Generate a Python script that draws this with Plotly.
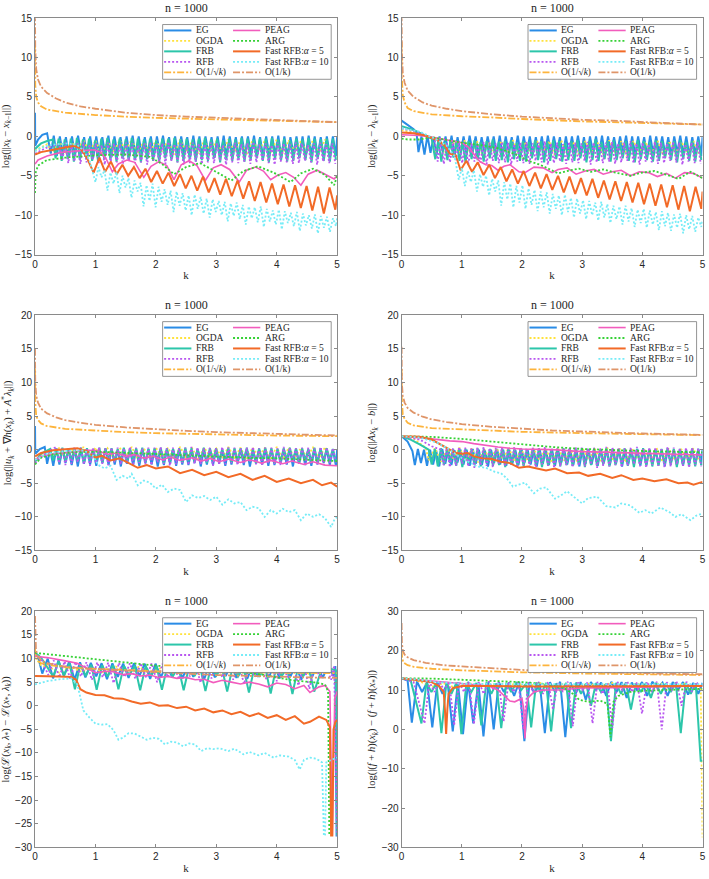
import numpy as np
import plotly.graph_objects as go

W, H = 709, 879

# ---------------- series names / styles ----------------
ORDER = ["EG", "OGDA", "FRB", "RFB", "SQRT", "PEAG", "ARG", "FAST5", "FAST10", "INVK"]
LABELS = {"EG": "EG", "OGDA": "OGDA", "FRB": "FRB", "RFB": "RFB", "SQRT": "O(1/√<i>k</i>)",
          "PEAG": "PEAG", "ARG": "ARG", "FAST5": "Fast RFB:<i>α</i> = 5",
          "FAST10": "Fast RFB:<i>α</i> = 10", "INVK": "O(1/k)"}
STYLE = {
    "EG": ("#2a8ce6", "solid", 2.0),
    "OGDA": ("#ffe23d", "2px,2px", 1.8),
    "FRB": ("#2cc6aa", "solid", 2.0),
    "RFB": ("#b857f0", "2px,2px", 1.8),
    "SQRT": ("#fdb43c", "7px,2px,2px,2px", 1.8),
    "PEAG": ("#f25cbd", "solid", 1.6),
    "ARG": ("#36d136", "2px,2px", 1.8),
    "FAST5": ("#f26a27", "solid", 2.0),
    "FAST10": ("#76ecf7", "2px,2px", 1.8),
    "INVK": ("#df9569", "7px,2px,2px,2px", 1.8),
}
LEGEND_ROWS = [("EG", "PEAG"), ("OGDA", "ARG"), ("FRB", "FAST5"), ("RFB", "FAST10"), ("SQRT", "INVK")]

K_TICKS = [0, 1, 2, 3, 4, 5]

# ======================= Panel 1 : log(||x_k - x_{k-1}||) =======================
P1_EG = dict(head=[[0, 3.0], [0.003, -1.2], [0.05, -0.4], [0.12, 0.2], [0.2, 0.4]], span=[0.26, 4.98],
    low=[-2.2,-2.5,-2.3,-2.6,-2.4,-2.2,-2.5,-2.7,-2.3,-2.4,-2.6,-2.2,-2.5,-2.4,-2.7,-2.3,-2.5,-2.6,-2.2,-2.4,
         -2.7,-2.5,-2.3,-2.6,-2.4,-2.5,-2.2,-2.7,-2.4,-2.5,-2.3,-2.6,-2.4,-2.2,-2.5,-2.7,-2.3,-2.4,-2.6,-2.5,
         -2.2,-2.4,-2.7,-2.3,-2.5,-2.6,-2.4,-2.5],
    high=[0.1,0.0,-0.1,0.0,0.1,-0.1,0.0,0.0,-0.1,0.1,0.0,-0.1,0.0,0.1,0.0,-0.1,0.0,0.0,0.1,-0.1,
          0.0,0.0,-0.1,0.1,0.0,0.0,-0.1,0.0,0.1,0.0,-0.1,0.0,0.0,0.1,-0.1,0.0,0.0,0.1,0.0,-0.1,
          0.0,0.0,0.1,0.0,-0.1,0.0,0.0],
    tail=[[5.0, -0.1]])
P1_OGDA = dict(head=[[0, -1.8], [0.2, -1.0]], span=[0.3, 4.9],
    low=[-2.0,-2.2,-1.9,-2.1,-2.3,-2.0,-1.8,-2.2,-2.1,-1.9,-2.3,-2.0,-2.2,-1.9,-2.1,-2.0,-2.3,-1.8,-2.1,-2.2,-2.0,-1.9,-2.2,-2.1],
    high=[-0.5,-0.6,-0.4,-0.5,-0.6,-0.5,-0.4,-0.6,-0.5,-0.5,-0.4,-0.6,-0.5,-0.6,-0.4,-0.5,-0.5,-0.6,-0.4,-0.5,-0.6,-0.5,-0.4],
    tail=[])
P1_FRB = dict(head=[[0, -1.6], [0.1, -0.9], [0.2, -0.6], [0.3, -0.4]], span=[0.34, 4.98],
    low=[-2.8,-3.1,-2.9,-3.2,-3.0,-2.7,-3.1,-3.3,-2.9,-3.0,-3.2,-2.8,-3.1,-3.0,-3.3,-2.9,-3.1,-3.2,-2.8,-3.0,
         -3.3,-3.1,-2.9,-3.2,-3.0,-3.1,-2.8,-3.3,-3.0,-3.1,-2.9,-3.2,-3.0,-2.8,-3.1,-3.3,-2.9,-3.0,-3.2,-3.1,
         -2.8,-3.0,-3.3,-2.9,-3.1,-3.2,-3.0],
    high=[-0.3,-0.4,-0.3,-0.2,-0.4,-0.3,-0.5,-0.3,-0.2,-0.4,-0.3,-0.4,-0.2,-0.3,-0.4,-0.3,-0.5,-0.3,-0.3,-0.2,
          -0.4,-0.3,-0.4,-0.3,-0.2,-0.4,-0.3,-0.5,-0.3,-0.4,-0.2,-0.3,-0.4,-0.3,-0.3,-0.2,-0.4,-0.3,-0.5,-0.3,
          -0.4,-0.2,-0.3,-0.4,-0.3,-0.3],
    tail=[])
P1_RFB = dict(head=[[0, -2.2], [0.2, -1.4], [0.4, -1.0]], span=[0.45, 4.97],
    low=[-3.1,-3.4,-3.2,-3.5,-3.3,-3.0,-3.4,-3.6,-3.2,-3.3,-3.5,-3.1,-3.4,-3.3,-3.6,-3.2,-3.4,-3.5,-3.1,-3.3,
         -3.6,-3.4,-3.2,-3.5,-3.3,-3.4,-3.1,-3.6,-3.3,-3.4,-3.2,-3.5,-3.3,-3.1,-3.4,-3.6,-3.2,-3.3,-3.5,-3.4,
         -3.1,-3.3,-3.6,-3.2,-3.4,-3.5],
    high=[-0.8,-1.0,-0.9,-0.7,-1.0,-0.9,-1.1,-0.8,-0.9,-1.0,-0.8,-0.9,-1.1,-0.9,-0.8,-1.0,-0.9,-0.7,-1.0,-0.9,
          -1.1,-0.8,-0.9,-1.0,-0.8,-0.9,-1.1,-0.9,-0.8,-1.0,-0.9,-0.7,-1.0,-0.9,-1.1,-0.8,-0.9,-1.0,-0.8,-0.9,
          -1.1,-0.9,-0.8,-1.0,-0.9],
    tail=[])
P1_SQRT = [[0, 12.0], [0.004, 6.5], [0.02, 5.0], [0.05, 4.3], [0.1, 3.8], [0.2, 3.4], [0.5, 3.0], [1, 2.7],
           [1.5, 2.5], [2, 2.35], [3, 2.15], [4, 1.95], [5, 1.8]]
P1_PEAG = [[0, -3.5], [0.05, -3.0], [0.2, -2.5], [0.4, -2.1], [0.6, -1.9], [0.8, -1.8], [0.98, -1.7], [1.08, -2.0],
           [1.18, -2.9], [1.28, -4.5], [1.38, -3.5], [1.52, -3.0], [1.65, -3.3], [1.8, -5.2], [1.92, -3.8],
           [2.05, -3.2], [2.18, -3.7], [2.3, -5.5], [2.42, -3.6], [2.55, -3.1], [2.68, -3.7], [2.82, -5.6],
           [2.95, -4.0], [3.08, -3.6], [3.22, -4.2], [3.38, -5.8], [3.5, -4.3], [3.65, -3.9], [3.78, -4.4],
           [3.9, -5.5], [4.02, -4.9], [4.15, -4.6], [4.28, -5.2], [4.4, -6.2], [4.52, -4.8], [4.67, -4.3],
           [4.8, -4.8], [4.95, -5.4], [5.0, -5.0]]
P1_ARG = [[0, -7.2], [0.01, -4.6], [0.05, -3.7], [0.2, -3.0], [0.5, -2.7], [1.0, -2.4], [1.5, -2.3], [1.9, -2.6],
          [2.1, -3.5], [2.3, -4.8], [2.5, -3.9], [2.73, -3.4], [2.95, -4.3], [3.25, -5.6], [3.45, -4.4],
          [3.69, -3.8], [3.95, -4.6], [4.23, -5.8], [4.4, -4.7], [4.6, -4.1], [4.8, -4.9], [4.95, -6.2], [5.0, -5.0]]
P1_FAST5 = dict(head=[[0, -2.3], [0.1, -2.0], [0.3, -1.7], [0.5, -1.4], [0.65, -1.2], [0.75, -1.5], [0.85, -2.6]],
    span=[0.97, 4.97],
    low=[-4.6,-4.5,-4.8,-5.0,-5.3,-5.8,-6.0,-6.3,-6.6,-6.9,-7.1,-7.4,-7.6,-7.9,-8.2,-8.4,-8.6,-8.9,-9.1,-9.4,-9.8,-9.3],
    high=[-2.7,-3.2,-3.6,-3.9,-4.1,-4.4,-4.6,-4.8,-5.0,-5.1,-5.3,-5.4,-5.6,-5.7,-5.8,-6.0,-6.1,-6.2,-6.3,-6.4,-6.5],
    tail=[[5.0, -7.5]])
P1_FAST10 = dict(head=[[0, -1.9], [0.15, -1.3], [0.35, -1.0], [0.55, -0.9], [0.7, -1.1], [0.8, -1.8], [0.9, -3.0]],
    span=[1.0, 4.98],
    low=[-5.8,-5.2,-6.9,-6.0,-7.2,-6.5,-7.8,-7.0,-8.9,-8.2,-9.0,-8.3,-8.7,-9.6,-8.8,-9.4,-10.0,-9.2,-9.8,-10.3,
         -9.6,-10.0,-10.8,-10.1,-10.5,-11.2,-10.4,-10.9,-11.5,-10.8,-11.2,-11.8,-11.0,-11.4,-12.0,-11.3,-11.7,-12.3,-11.6,-12.1,-11.4],
    high=[-3.9,-4.3,-4.6,-4.5,-5.0,-5.3,-5.6,-5.9,-6.2,-6.0,-6.4,-6.7,-6.9,-7.0,-7.2,-7.5,-7.4,-7.7,-7.9,-8.0,
          -8.2,-8.3,-8.5,-8.4,-8.7,-8.9,-9.0,-8.9,-9.2,-9.4,-9.3,-9.5,-9.7,-9.6,-9.8,-10.0,-9.9,-10.1,-10.2,-10.4],
    tail=[[5.0, -10.4]])
P1_INVK = [[0, 15.5], [0.004, 11], [0.02, 8.5], [0.05, 7.2], [0.1, 6.3], [0.2, 5.5], [0.35, 4.8], [0.5, 4.3],
           [0.75, 3.8], [1, 3.5], [1.5, 3.0], [2, 2.7], [2.5, 2.5], [3, 2.35], [3.5, 2.2], [4, 2.05], [4.5, 1.9], [5, 1.8]]

# ======================= Panel 2 : log(||lambda_k - lambda_{k-1}||) =======================
P2_EG = dict(head=[[0, 2.0], [0.1, 1.5], [0.2, 0.9], [0.25, 0.3]], span=[0.28, 4.98],
    low=[-2.0,-2.3,-2.1,-2.4,-1.9,-2.2,-2.5,-2.1,-2.3,-2.0,-2.4,-2.2,-1.9,-2.3,-2.5,-2.1,-2.2,-2.4,-2.0,-2.3,
         -2.1,-2.5,-2.2,-1.9,-2.4,-2.3,-2.1,-2.2,-2.5,-2.0,-2.3,-2.4,-2.1,-2.2,-1.9,-2.5,-2.3,-2.1,-2.4,-2.2,
         -2.0,-2.3,-2.5,-2.1,-2.2,-2.4,-2.3,-2.5],
    high=[0.0,0.1,-0.1,0.0,0.0,0.1,-0.1,0.0,0.1,0.0,-0.1,0.0,0.0,0.1,0.0,-0.1,0.1,0.0,0.0,-0.1,
          0.0,0.1,0.0,-0.1,0.0,0.0,0.1,-0.1,0.0,0.0,0.1,0.0,-0.1,0.0,0.1,0.0,0.0,-0.1,0.1,0.0,
          0.0,-0.1,0.0,0.1,0.0,-0.1,0.0],
    tail=[[5.0, -0.1]])
P2_OGDA = dict(head=[[0, 0.8], [0.3, 0.3], [0.5, -0.2]], span=[0.55, 4.95],
    low=[-2.2,-2.4,-2.1,-2.3,-2.5,-2.2,-2.0,-2.4,-2.3,-2.1,-2.5,-2.2,-2.4,-2.1,-2.3,-2.2,-2.5,-2.0,-2.3,-2.4,-2.2,-2.1,-2.4],
    high=[-0.6,-0.7,-0.5,-0.6,-0.7,-0.6,-0.5,-0.7,-0.6,-0.6,-0.5,-0.7,-0.6,-0.7,-0.5,-0.6,-0.6,-0.7,-0.5,-0.6,-0.7,-0.6],
    tail=[])
P2_FRB = dict(head=[[0, 1.3], [0.2, 0.8], [0.4, 0.1], [0.5, -0.3]], span=[0.56, 4.98],
    low=[-2.9,-3.2,-3.0,-2.7,-3.1,-3.3,-2.9,-3.0,-3.2,-2.8,-3.1,-3.0,-3.3,-2.9,-3.1,-3.2,-2.8,-3.0,-3.3,-3.1,
         -2.9,-3.2,-3.0,-3.1,-2.8,-3.3,-3.0,-3.1,-2.9,-3.2,-3.0,-2.8,-3.1,-3.3,-2.9,-3.0,-3.2,-3.1,-2.8,-3.0,
         -3.3,-2.9,-3.1,-3.2,-3.0],
    high=[-0.5,-0.7,-0.6,-0.5,-0.8,-0.6,-0.5,-0.7,-0.6,-0.4,-0.7,-0.6,-0.5,-0.8,-0.6,-0.7,-0.5,-0.6,-0.7,-0.5,
          -0.6,-0.8,-0.6,-0.5,-0.7,-0.6,-0.4,-0.7,-0.6,-0.5,-0.8,-0.6,-0.7,-0.5,-0.6,-0.7,-0.5,-0.6,-0.8,-0.6,
          -0.5,-0.7,-0.6,-0.5],
    tail=[])
P2_RFB = dict(head=[[0, 1.0], [0.3, 0.5], [0.55, -0.4]], span=[0.6, 4.97],
    low=[-3.2,-3.5,-3.3,-3.0,-3.4,-3.6,-3.2,-3.3,-3.5,-3.1,-3.4,-3.3,-3.6,-3.2,-3.4,-3.5,-3.1,-3.3,-3.6,-3.4,
         -3.2,-3.5,-3.3,-3.4,-3.1,-3.6,-3.3,-3.4,-3.2,-3.5,-3.3,-3.1,-3.4,-3.6,-3.2,-3.3,-3.5,-3.4,-3.1,-3.3,
         -3.6,-3.2,-3.4,-3.5],
    high=[-0.7,-0.9,-0.8,-0.6,-0.9,-0.8,-1.0,-0.7,-0.8,-0.9,-0.7,-0.8,-1.0,-0.8,-0.7,-0.9,-0.8,-0.6,-0.9,-0.8,
          -1.0,-0.7,-0.8,-0.9,-0.7,-0.8,-1.0,-0.8,-0.7,-0.9,-0.8,-0.6,-0.9,-0.8,-1.0,-0.7,-0.8,-0.9,-0.7,-0.8,
          -1.0,-0.8,-0.7],
    tail=[])
P2_SQRT = [[0, 12.0], [0.004, 7.5], [0.02, 5.2], [0.05, 4.3], [0.1, 3.6], [0.2, 3.2], [0.5, 2.8], [1, 2.55],
           [1.5, 2.4], [2, 2.2], [3, 1.9], [4, 1.7], [5, 1.5]]
P2_PEAG = [[0, 0.2], [0.3, 0.1], [0.5, -0.1], [0.8, -0.5], [1.0, -0.8], [1.1, -1.3], [1.2, -2.3], [1.3, -3.2],
           [1.4, -3.6], [1.5, -3.7], [1.6, -4.3], [1.7, -3.8], [1.8, -3.6], [1.95, -4.5], [2.05, -4.6], [2.2, -3.9],
           [2.35, -4.0], [2.5, -4.6], [2.6, -4.2], [2.75, -4.0], [2.9, -4.8], [3.05, -4.4], [3.2, -4.2], [3.35, -4.8],
           [3.5, -4.5], [3.65, -4.3], [3.8, -5.0], [3.95, -4.5], [4.1, -4.6], [4.25, -5.1], [4.4, -4.7], [4.55, -5.3],
           [4.7, -4.6], [4.85, -4.7], [5, -5.3]]
P2_ARG = [[0, -0.3], [0.1, -0.4], [0.3, -0.4], [0.5, -0.1], [0.7, -0.4], [1.0, -0.8], [1.3, -1.1], [1.6, -1.5],
          [1.9, -2.3], [2.1, -3.1], [2.3, -3.6], [2.45, -4.2], [2.6, -4.7], [2.8, -4.3], [2.95, -4.1], [3.15, -4.5],
          [3.35, -4.2], [3.55, -4.6], [3.8, -5.0], [4.0, -4.6], [4.2, -4.4], [4.45, -5.0], [4.6, -5.4], [4.8, -4.5],
          [5.0, -5.3]]
P2_FAST5 = dict(head=[[0, 0.5], [0.2, 0.4], [0.4, 0.1], [0.6, -0.5], [0.72, -1.2], [0.8, -2.2], [0.9, -2.4]],
    span=[0.98, 4.98],
    low=[-4.3,-4.5,-4.9,-5.3,-5.7,-6.0,-6.3,-6.6,-6.8,-7.1,-7.3,-7.5,-7.8,-8.0,-8.2,-8.4,-8.6,-8.8,-9.0,-9.3,-9.5,-9.2],
    high=[-3.1,-3.3,-3.6,-3.9,-4.2,-4.4,-4.6,-4.8,-5.0,-5.1,-5.3,-5.4,-5.6,-5.7,-5.8,-5.9,-6.0,-6.1,-6.2,-6.3,-6.4],
    tail=[[5.0, -7.0]])
P2_FAST10 = dict(head=[[0, 1.0], [0.3, 0.6], [0.55, -0.3], [0.75, -1.2], [0.88, -2.5]], span=[0.95, 4.98],
    low=[-5.5,-6.3,-5.8,-7.0,-6.4,-7.5,-7.0,-8.8,-8.0,-9.0,-8.4,-9.2,-8.7,-9.5,-9.0,-9.8,-9.2,-10.0,-9.6,-10.3,
         -9.8,-10.5,-10.0,-10.7,-10.3,-11.0,-10.5,-11.2,-10.8,-11.5,-11.0,-11.6,-11.2,-11.9,-11.4,-12.0,-11.6,-12.3,-11.8,-12.1,-11.5],
    high=[-4.0,-4.4,-4.3,-4.8,-5.0,-5.4,-5.6,-5.8,-6.0,-6.3,-6.2,-6.6,-6.8,-7.0,-7.1,-7.3,-7.5,-7.4,-7.8,-7.9,
          -8.1,-8.2,-8.4,-8.3,-8.6,-8.8,-8.9,-8.8,-9.1,-9.3,-9.2,-9.4,-9.6,-9.5,-9.7,-9.9,-9.8,-10.0,-10.1,-10.3],
    tail=[[5.0, -10.6]])
P2_INVK = [[0, 15.5], [0.004, 11], [0.02, 8], [0.05, 6.8], [0.1, 5.8], [0.2, 5.0], [0.35, 4.3], [0.5, 3.9],
           [0.75, 3.5], [1, 3.2], [1.5, 2.8], [2, 2.5], [2.5, 2.3], [3, 2.1], [3.5, 2.0], [4, 1.8], [4.5, 1.65], [5, 1.5]]

# ======================= Panel 3 : log(||u_k + grad h(x_k) + A* lambda_k||) =======================
P3_EG = dict(head=[[0, 3.5], [0.004, -0.6], [0.08, 0.1], [0.16, 0.4]], span=[0.2, 4.98],
    low=[-2.1,-2.4,-2.2,-2.0,-2.3,-2.5,-2.1,-2.2,-2.4,-2.0,-2.3,-2.2,-2.5,-2.1,-2.3,-2.4,-2.0,-2.2,-2.5,-2.3,
         -2.1,-2.4,-2.2,-2.3,-2.0,-2.5,-2.2,-2.3,-2.1,-2.4,-2.2,-2.0,-2.3,-2.5,-2.1,-2.2,-2.4,-2.3,-2.0,-2.2,
         -2.5,-2.1,-2.3,-2.4,-2.2,-2.0,-2.3,-2.4],
    high=[0.0,0.1,0.0,-0.1,0.0,0.1,0.0,0.0,-0.1,0.1,0.0,0.0,0.1,-0.1,0.0,0.0,0.1,0.0,-0.1,0.0,
          0.1,0.0,0.0,-0.1,0.1,0.0,0.0,0.1,-0.1,0.0,0.0,0.1,0.0,-0.1,0.0,0.1,0.0,0.0,-0.1,0.0,
          0.1,0.0,-0.1,0.0,0.1,0.0,0.0],
    tail=[[5.0, 0.0]])
P3_OGDA = dict(head=[[0, -1.5], [0.2, 0.0]], span=[0.3, 4.9],
    low=[-1.2,-1.4,-1.1,-1.3,-1.5,-1.2,-1.0,-1.4,-1.3,-1.1,-1.5,-1.2,-1.4,-1.1,-1.3,-1.2,-1.5,-1.0,-1.3,-1.4,-1.2,-1.1,-1.4,-1.3],
    high=[0.3,0.2,0.4,0.3,0.2,0.3,0.4,0.2,0.3,0.3,0.4,0.2,0.3,0.2,0.4,0.3,0.3,0.2,0.4,0.3,0.2,0.3,0.4],
    tail=[])
P3_FRB = dict(head=[[0, -1.8], [0.1, -0.6], [0.25, 0.1]], span=[0.3, 4.98],
    low=[-1.6,-1.9,-1.7,-1.5,-1.8,-2.0,-1.6,-1.7,-1.9,-1.5,-1.8,-1.7,-2.0,-1.6,-1.8,-1.9,-1.5,-1.7,-2.0,-1.8,
         -1.6,-1.9,-1.7,-1.8,-1.5,-2.0,-1.7,-1.8,-1.6,-1.9,-1.7,-1.5,-1.8,-2.0,-1.6,-1.7,-1.9,-1.8,-1.5,-1.7,
         -2.0,-1.6,-1.8,-1.9,-1.7,-1.5,-1.8],
    high=[0.2,0.3,0.1,0.2,0.3,0.2,0.1,0.3,0.2,0.2,0.1,0.3,0.2,0.2,0.3,0.1,0.2,0.3,0.2,0.1,
          0.2,0.3,0.2,0.1,0.3,0.2,0.2,0.1,0.3,0.2,0.2,0.3,0.1,0.2,0.3,0.2,0.1,0.2,0.3,0.2,
          0.2,0.1,0.3,0.2,0.2,0.1],
    tail=[])
P3_RFB = dict(head=[[0, -2.0], [0.2, -0.4], [0.35, 0.4]], span=[0.4, 4.98],
    low=[-2.0,-2.3,-2.1,-1.9,-2.2,-2.4,-2.0,-2.1,-2.3,-1.9,-2.2,-2.1,-2.4,-2.0,-2.2,-2.3,-1.9,-2.1,-2.4,-2.2,
         -2.0,-2.3,-2.1,-2.2,-1.9,-2.4,-2.1,-2.2,-2.0,-2.3,-2.1,-1.9,-2.2,-2.4,-2.0,-2.1,-2.3,-2.2,-1.9,-2.1,
         -2.4,-2.0,-2.2,-2.3,-2.1,-1.9],
    high=[0.3,0.2,0.4,0.3,0.2,0.3,0.4,0.2,0.3,0.3,0.2,0.4,0.3,0.2,0.3,0.3,0.4,0.2,0.3,0.2,
          0.3,0.4,0.3,0.2,0.3,0.2,0.4,0.3,0.3,0.2,0.3,0.4,0.2,0.3,0.3,0.2,0.4,0.3,0.2,0.3,
          0.3,0.2,0.4,0.3,0.2],
    tail=[])
P3_SQRT = [[0, 12], [0.004, 7], [0.02, 5], [0.05, 4.4], [0.1, 3.9], [0.2, 3.5], [0.5, 3.1], [1, 2.8], [1.5, 2.6],
           [2, 2.45], [3, 2.25], [4, 2.1], [5, 2.0]]
P3_PEAG = [[0, -1.5], [0.1, -1.0], [0.3, -0.6], [0.5, -0.4], [0.7, -0.2], [0.9, -0.1], [1.05, -0.2], [1.2, -0.7],
           [1.35, -0.5], [1.5, -1.0], [1.65, -0.7], [1.8, -1.3], [1.95, -1.0], [2.1, -1.5], [2.25, -1.1], [2.4, -1.6],
           [2.6, -1.2], [2.75, -1.7], [2.9, -1.3], [3.05, -1.8], [3.2, -1.4], [3.4, -1.9], [3.55, -1.5], [3.75, -2.0],
           [3.9, -1.6], [4.1, -2.1], [4.25, -1.7], [4.45, -2.2], [4.6, -1.8], [4.8, -2.3], [5.0, -2.4]]
P3_ARG = [[0, -2.2], [0.1, -1.2], [0.3, -0.7], [0.6, -0.4], [1.0, -0.3], [1.5, -0.5], [2, -0.7], [2.5, -0.8],
          [3, -1.0], [3.5, -1.2], [4, -1.3], [4.5, -1.5], [5, -1.7]]
P3_FAST5 = [[0, -1.0], [0.1, -0.5], [0.3, -0.1], [0.5, 0.1], [0.7, 0.2], [0.85, -0.2], [1.0, -1.2], [1.1, -0.9],
            [1.25, -1.6], [1.4, -1.3], [1.55, -2.0], [1.7, -2.7], [1.85, -2.3], [2.0, -2.8], [2.2, -2.5], [2.4, -3.5],
            [2.6, -3.0], [2.8, -3.8], [3.0, -3.3], [3.2, -4.1], [3.4, -3.6], [3.6, -4.5], [3.8, -3.9], [4.0, -4.8],
            [4.2, -4.3], [4.4, -5.0], [4.6, -4.5], [4.75, -5.3], [4.9, -4.9], [5.0, -5.5]]
P3_FAST10 = [[0, -1.5], [0.2, -0.6], [0.5, -0.2], [0.8, -0.1], [0.95, -0.8], [1.05, -2.3], [1.15, -2.8], [1.25, -2.4],
             [1.35, -4.5], [1.45, -3.9], [1.55, -4.3], [1.6, -3.6], [1.7, -5.3], [1.8, -4.6], [1.9, -4.9], [2.0, -5.8],
             [2.1, -5.2], [2.2, -6.3], [2.3, -5.8], [2.4, -6.0], [2.5, -7.8], [2.6, -6.8], [2.7, -7.2], [2.8, -6.9],
             [2.9, -7.5], [3.0, -7.0], [3.1, -8.2], [3.2, -7.4], [3.3, -8.0], [3.4, -7.8], [3.5, -9.0], [3.6, -8.5],
             [3.7, -8.7], [3.8, -10.0], [3.9, -9.0], [4.0, -9.5], [4.1, -8.8], [4.2, -9.3], [4.3, -9.0], [4.4, -10.5],
             [4.5, -9.5], [4.6, -10.0], [4.7, -9.6], [4.8, -10.2], [4.9, -11.5], [4.95, -10.5], [5.0, -10.0]]
P3_INVK = [[0, 15], [0.004, 10], [0.02, 8], [0.05, 7], [0.1, 6.1], [0.2, 5.4], [0.35, 4.8], [0.5, 4.4], [0.75, 4.0],
           [1, 3.7], [1.5, 3.3], [2, 3.0], [2.5, 2.8], [3, 2.6], [3.5, 2.45], [4, 2.3], [4.5, 2.2], [5, 2.1]]

# ======================= Panel 4 : log(||A x_k - b||) =======================
P4_EG = dict(head=[[0, 2.0], [0.1, 1.2], [0.18, -0.2]], span=[0.22, 4.98],
    low=[-2.3,-2.0,-2.4,-2.2,-2.5,-2.1,-2.3,-1.9,-2.2,-2.4,-2.1,-2.3,-2.5,-2.0,-2.2,-2.4,-2.1,-2.3,-1.9,-2.2,
         -2.5,-2.1,-2.3,-2.4,-2.0,-2.2,-2.3,-2.5,-2.1,-2.2,-2.4,-2.0,-2.3,-2.1,-2.5,-2.2,-2.0,-2.4,-2.3,-2.1,
         -2.2,-2.5,-2.0,-2.3,-2.4,-2.1,-2.2,-2.3],
    high=[0.1,0.0,0.0,-0.1,0.1,0.0,-0.1,0.0,0.0,0.1,0.0,-0.1,0.0,0.1,0.0,0.0,-0.1,0.1,0.0,0.0,
          -0.1,0.0,0.1,0.0,0.0,-0.1,0.0,0.1,0.0,-0.1,0.0,0.0,0.1,0.0,-0.1,0.0,0.1,0.0,0.0,-0.1,
          0.0,0.1,0.0,0.0,-0.1,0.0,0.1],
    tail=[[5.0, 0.0]])
P4_OGDA = dict(head=[[0, 2.0], [0.2, 1.6], [0.4, 0.3]], span=[0.45, 4.95],
    low=[-1.6,-1.8,-1.5,-1.7,-1.9,-1.6,-1.4,-1.8,-1.7,-1.5,-1.9,-1.6,-1.8,-1.5,-1.7,-1.6,-1.9,-1.4,-1.7,-1.8,-1.6,-1.5,-1.8],
    high=[0.2,0.1,0.3,0.2,0.1,0.2,0.3,0.1,0.2,0.2,0.3,0.1,0.2,0.1,0.3,0.2,0.2,0.1,0.3,0.2,0.1,0.2],
    tail=[])
P4_FRB = dict(head=[[0, 2.0], [0.15, 1.5], [0.3, 0.8], [0.45, 0.0]], span=[0.5, 4.98],
    low=[-2.2,-2.5,-2.3,-2.0,-2.4,-2.6,-2.2,-2.3,-2.5,-2.1,-2.4,-2.3,-2.6,-2.2,-2.4,-2.5,-2.1,-2.3,-2.6,-2.4,
         -2.2,-2.5,-2.3,-2.4,-2.1,-2.6,-2.3,-2.4,-2.2,-2.5,-2.3,-2.1,-2.4,-2.6,-2.2,-2.3,-2.5,-2.4,-2.1,-2.3,
         -2.6,-2.2,-2.4,-2.5,-2.3],
    high=[0.1,0.2,0.0,0.1,0.2,0.1,0.0,0.2,0.1,0.1,0.0,0.2,0.1,0.1,0.2,0.0,0.1,0.2,0.1,0.0,
          0.1,0.2,0.1,0.0,0.2,0.1,0.1,0.0,0.2,0.1,0.1,0.2,0.0,0.1,0.2,0.1,0.0,0.1,0.2,0.1,
          0.1,0.0,0.2,0.1],
    tail=[])
P4_RFB = dict(head=[[0, 2.0], [0.3, 1.5], [0.5, 0.5], [0.65, 0.0]], span=[0.7, 4.98],
    low=[-2.3,-2.6,-2.4,-2.1,-2.5,-2.7,-2.3,-2.4,-2.6,-2.2,-2.5,-2.4,-2.7,-2.3,-2.5,-2.6,-2.2,-2.4,-2.7,-2.5,
         -2.3,-2.6,-2.4,-2.5,-2.2,-2.7,-2.4,-2.5,-2.3,-2.6,-2.4,-2.2,-2.5,-2.7,-2.3,-2.4,-2.6,-2.5,-2.2,-2.4,
         -2.7,-2.3,-2.5],
    high=[0.3,0.2,0.4,0.3,0.2,0.3,0.4,0.2,0.3,0.3,0.2,0.4,0.3,0.2,0.3,0.3,0.4,0.2,0.3,0.2,
          0.3,0.4,0.3,0.2,0.3,0.2,0.4,0.3,0.3,0.2,0.3,0.4,0.2,0.3,0.3,0.2,0.4,0.3,0.2,0.3,
          0.3,0.2],
    tail=[])
P4_SQRT = [[0, 12], [0.004, 7.5], [0.02, 5.2], [0.05, 4.6], [0.1, 4.0], [0.2, 3.6], [0.5, 3.2], [1, 3.0], [1.5, 2.8],
           [2, 2.65], [3, 2.45], [4, 2.3], [5, 2.15]]
P4_PEAG = [[0, 2.0], [0.3, 1.8], [0.5, 1.6], [0.8, 1.3], [1.0, 1.2], [1.2, 0.9], [1.4, 0.6], [1.6, 0.4], [1.8, 0.2],
           [2.0, 0.1], [2.5, 0.0], [3.0, -0.3], [3.5, -0.4], [4.0, -0.5], [4.5, -0.6], [5, -0.8]]
P4_ARG = [[0, 2.0], [0.5, 1.9], [1.0, 1.6], [1.5, 1.2], [2.0, 0.7], [2.5, 0.4], [3.0, 0.1], [3.5, -0.1], [4.0, -0.2],
          [4.5, -0.3], [5, -0.4]]
P4_FAST5 = [[0, 2.0], [0.3, 1.9], [0.5, 1.5], [0.65, 0.8], [0.8, 0.0], [0.9, -0.5], [1.0, -0.6], [1.1, -0.5],
            [1.2, -1.0], [1.35, -1.3], [1.5, -1.4], [1.65, -1.8], [1.8, -2.0], [1.95, -2.7], [2.1, -2.5], [2.25, -2.8],
            [2.4, -3.1], [2.55, -2.8], [2.75, -3.5], [2.95, -3.4], [3.1, -3.9], [3.3, -3.6], [3.5, -4.2], [3.65, -3.8],
            [3.85, -4.5], [4.0, -4.3], [4.2, -4.7], [4.4, -4.4], [4.6, -5.0], [4.75, -4.9], [4.85, -5.2], [5, -4.8]]
P4_FAST10 = [[0, 2.0], [0.3, 1.8], [0.6, 1.0], [0.8, 0.0], [0.95, -1.0], [1.1, -1.8], [1.25, -2.5], [1.4, -2.7],
             [1.55, -3.3], [1.65, -3.5], [1.75, -4.3], [1.85, -5.5], [1.95, -5.2], [2.05, -4.9], [2.2, -6.5],
             [2.3, -5.8], [2.4, -5.6], [2.55, -7.3], [2.65, -6.8], [2.75, -6.2], [2.9, -7.3], [3.0, -8.0], [3.1, -7.2],
             [3.25, -7.0], [3.4, -8.4], [3.55, -8.6], [3.65, -8.0], [3.8, -8.3], [3.95, -9.4], [4.05, -9.0],
             [4.15, -9.5], [4.3, -8.6], [4.45, -9.3], [4.55, -10.0], [4.65, -9.6], [4.8, -10.5], [4.9, -9.8], [5.0, -9.5]]
P4_INVK = [[0, 15.3], [0.004, 10], [0.02, 8], [0.05, 7], [0.1, 6.2], [0.2, 5.5], [0.35, 4.9], [0.5, 4.5], [0.75, 4.1],
           [1, 3.8], [1.5, 3.4], [2, 3.1], [2.5, 2.85], [3, 2.7], [3.5, 2.5], [4, 2.4], [4.5, 2.3], [5, 2.2]]

# ======================= Panel 5 : log(L(x_k, l*) - L(x*, l_k)) =======================
P5_EG = dict(head=[[0, 11.0], [0.05, 10.4]], span=[0.12, 4.94],
    low=[6.8,5.8,6.3,5.5,6.0,6.2,5.6,6.1,5.9,6.3,5.7,6.0,6.2,5.8,6.1,5.6,6.0,6.3,5.9,5.7,6.1,6.0,5.8,6.2,5.5,6.0,5.9,6.3],
    high=[10.0,9.6,9.4,9.2,9.1,9.0,9.0,8.9,9.0,8.9,8.9,8.8,8.9,8.8,8.8,8.7,8.8,8.7,8.7,8.6,8.7,8.6,8.6,8.6,8.5,8.6,8.6],
    tail=[[4.97, 8.4], [4.99, -27.5], [5.0, -27.5]])
P5_OGDA = dict(head=[[0, 10.2], [0.1, 8.6], [0.3, 7.8]], span=[0.4, 4.9],
    low=[7.0,7.2,6.9,7.1,7.0,6.8,7.1,7.0,6.9,7.2,7.0,6.8,7.0],
    high=[8.2,8.1,8.3,8.2,8.0,8.2,8.1,8.2,8.0,8.1,8.2,8.0],
    tail=[[5.0, 7.0]])
P5_FRB = dict(head=[[0, 11.3], [0.1, 10.2]], span=[0.3, 4.62],
    low=[6.2,6.4,3.5,6.3,3.4,6.2,3.5,6.4,3.3,6.3,3.4,6.2,3.3,6.3,3.1,6.4,3.0,6.2,2.8,6.3,2.6,6.2,2.5,6.3,3.0],
    high=[9.4,9.0,8.8,8.7,8.6,8.6,8.5,8.5,8.4,8.4,8.4,8.3,8.3,8.3,8.2,8.2,8.2,8.1,8.1,8.1,8.0,8.0,8.0,8.0],
    tail=[[4.75, 8.0], [4.9, 7.8], [4.98, 7.5], [5.0, -27.5]])
P5_RFB = dict(head=[[0, 10.8], [0.1, 10.0]], span=[0.22, 4.9],
    low=[6.5,6.0,5.8,6.2,5.5,6.0,4.8,6.1,5.7,5.9,5.0,6.0,5.6,6.2,4.9,5.8,6.0,5.5,4.6,6.1,5.7,5.2,6.0,4.3,3.6,5.8,5.5],
    high=[9.6,9.4,9.3,9.2,9.2,9.1,9.1,9.0,9.0,9.0,8.9,8.9,8.9,8.9,8.8,8.8,8.8,8.8,8.7,8.7,8.7,8.7,8.6,8.6,8.6,8.6],
    tail=[[4.95, 8.5], [5.0, -27.5]])
P5_SQRT = [[0, 12], [0.01, 10.5], [0.05, 9.5], [0.1, 9.0], [0.3, 8.5], [0.6, 8.0], [1, 7.8], [1.5, 7.5], [2, 7.3],
           [3, 7.1], [4, 7.0], [5, 6.9]]
P5_PEAG = [[0, 10.5], [0.2, 10.2], [0.5, 9.5], [0.7, 9.0], [0.85, 8.0], [1.0, 7.0], [1.15, 7.3], [1.3, 7.2],
           [1.45, 6.6], [1.6, 6.8], [1.75, 6.3], [1.9, 6.5], [2.05, 6.0], [2.2, 6.2], [2.35, 5.8], [2.5, 6.0],
           [2.65, 5.5], [2.8, 5.6], [2.95, 4.9], [3.1, 5.4], [3.25, 5.0], [3.4, 4.6], [3.55, 5.0], [3.7, 4.6],
           [3.85, 4.0], [4.0, 4.8], [4.15, 4.5], [4.3, 3.6], [4.45, 4.3], [4.55, 2.8], [4.7, 4.0], [4.8, 4.3],
           [4.88, 3.0], [4.92, -27.5], [4.96, 1.5], [5.0, 3.0]]
P5_ARG = [[0, 11.2], [0.3, 10.8], [0.6, 10.4], [1.0, 9.9], [1.5, 9.2], [2.0, 8.5], [2.5, 8.0], [3.0, 7.6], [3.5, 7.0],
          [3.8, 6.5], [4.0, 6.0], [4.3, 5.3], [4.6, 5.0], [4.8, 4.5], [4.85, 3.0], [4.87, -27.5]]
P5_FAST5 = [[0, 6.3], [0.2, 6.3], [0.4, 6.2], [0.6, 6.1], [0.68, 5.5], [0.75, 3.5], [0.85, 2.8], [1.0, 2.3],
            [1.15, 2.2], [1.3, 1.6], [1.45, 1.5], [1.6, 0.9], [1.75, 0.4], [1.9, 0.7], [2.05, 0.0], [2.2, 0.1],
            [2.35, -0.5], [2.5, -0.2], [2.65, -1.0], [2.8, -0.6], [2.95, -1.4], [3.1, -1.0], [3.25, -1.8], [3.4, -1.3],
            [3.55, -2.2], [3.7, -1.6], [3.85, -2.6], [4.0, -2.0], [4.15, -3.0], [4.3, -2.2], [4.45, -3.8], [4.55, -3.4],
            [4.7, -2.3], [4.82, -3.0], [4.88, -4.5], [4.9, -27.5], [4.92, -27.5], [4.94, -5.0], [4.97, -3.5], [5.0, -3.0]]
P5_FAST10 = [[0, 4.5], [0.2, 5.2], [0.4, 5.6], [0.6, 5.8], [0.7, 4.5], [0.75, 1.5], [0.8, -1.0], [0.9, -2.5],
             [1.0, -3.8], [1.1, -4.0], [1.2, -3.9], [1.3, -5.2], [1.38, -7.2], [1.45, -6.8], [1.55, -5.8], [1.65, -5.9],
             [1.75, -6.5], [1.85, -7.2], [1.95, -6.8], [2.05, -7.0], [2.15, -8.2], [2.25, -7.6], [2.35, -7.8],
             [2.45, -8.6], [2.55, -8.0], [2.65, -8.2], [2.75, -9.6], [2.85, -9.0], [2.95, -9.2], [3.05, -9.0],
             [3.2, -9.6], [3.3, -9.1], [3.45, -10.3], [3.55, -9.8], [3.7, -10.5], [3.8, -10.0], [3.95, -11.0],
             [4.05, -10.5], [4.2, -10.8], [4.3, -11.5], [4.38, -13.5], [4.45, -11.5], [4.55, -11.0], [4.65, -11.2],
             [4.75, -12.0], [4.78, -27.5], [4.8, -27.5], [4.82, -12.0], [4.9, -11.5], [5.0, -11.0]]
P5_INVK = [[0, 19], [0.005, 15], [0.015, 12], [0.04, 10.5], [0.1, 9.6], [0.2, 9.0], [0.4, 8.5], [0.7, 8.0], [1, 7.8],
           [1.5, 7.4], [2, 7.0], [2.5, 6.8], [3, 6.5], [3.5, 6.3], [4, 6.2], [4.5, 6.0], [5, 5.9]]

# ======================= Panel 6 : log(|(f+h)(x_k) - (f+h)(x*)|) =======================
P6_EG = dict(head=[[0, 13.0], [0.1, 12.4]], span=[0.17, 4.93],
    low=[1.7,9.5,0.5,9.0,-0.5,-1.2,1.5,-1.8,0.0,9.5,8.5,-3.0,9.0,-1.0,9.5,-2.0,9.0,7.5,10.0,8.5,9.5,8.0,10.0,8.5,10.5,8.5,10.0,8.8,9.0],
    high=[12.2,12.0,12.1,11.9,12.0,12.1,11.9,12.0,12.0,11.9,12.1,12.0,11.8,12.0,12.1,11.9,12.0,12.0,11.9,12.1,12.0,11.9,12.0,12.1,11.9,12.0,12.0,11.8],
    tail=[[5.0, 11.8]])
P6_OGDA = dict(head=[[0, 13.0], [0.3, 12.2]], span=[0.5, 4.9],
    low=[10.8,10.5,11.0,10.7,10.9,10.4,10.8,11.0,10.6,10.9,10.7,10.8],
    high=[11.7,11.8,11.6,11.7,11.8,11.7,11.6,11.8,11.7,11.7,11.6],
    tail=[[4.97, 11.0], [5.0, -27.5]])
P6_FRB = dict(head=[[0, 13.0], [0.15, 12.5]], span=[0.33, 4.97],
    low=[1.5,9.5,-1.0,9.0,-1.2,9.5,1.0,9.0,0.3,9.5,10.0,0.5,9.0,-0.5,9.5,0.3,9.0,6.0,9.5,-3.0,9.0,5.0,9.5,8.0,9.0,9.5,-1.0,9.0,-8.0],
    high=[11.8,11.7,11.9,11.8,11.6,11.8,11.9,11.7,11.8,11.8,11.6,11.9,11.8,11.7,11.8,11.9,11.7,11.8,11.6,11.8,11.9,11.7,11.8,11.8,11.7,11.9,11.8,11.7],
    tail=[[5.0, -8.0]])
P6_RFB = dict(head=[[0, 13.0], [0.2, 12.0]], span=[0.38, 4.98],
    low=[1.5,9.5,10.0,1.0,9.5,1.3,9.0,10.0,2.0,9.5,0.0,9.5,9.0,5.0,9.5,0.8,10.0,1.5,9.0,0.3,10.0,9.5,4.0,9.5,0.0,10.0,6.0,9.5,10.5],
    high=[12.1,12.0,12.2,12.1,11.9,12.1,12.2,12.0,12.1,12.1,11.9,12.2,12.1,12.0,12.1,12.2,12.0,12.1,11.9,12.1,12.2,12.0,12.1,12.1,12.0,12.2,12.1,12.0],
    tail=[])
P6_SQRT = [[0, 20], [0.01, 18], [0.03, 17], [0.1, 16.3], [0.2, 15.9], [0.5, 15.4], [1, 15.0], [1.5, 14.7], [2, 14.5],
           [3, 14.2], [4, 14.0], [5, 13.8]]
P6_PEAG = [[0, 13.0], [0.3, 12.6], [0.6, 12.2], [0.9, 11.8], [1.2, 11.4], [1.45, 11.0], [1.6, 10.0], [1.7, 8.6],
           [1.8, 7.2], [1.88, 7.0], [1.95, 7.5], [2.0, 7.9], [2.03, 5.0], [2.05, -2.3], [2.07, 5.0], [2.1, 8.0],
           [2.2, 9.5], [2.35, 10.0], [2.6, 10.0], [3.0, 10.5], [3.5, 10.6], [4.0, 10.7], [4.5, 10.8], [5.0, 11.0]]
P6_ARG = [[0, 13.0], [0.5, 12.9], [1.0, 12.6], [1.5, 12.3], [2.0, 12.0], [2.4, 11.5], [2.7, 10.5], [2.85, 9.0],
          [2.95, 7.5], [3.1, 7.0], [3.3, 7.3], [3.42, 6.5], [3.45, 2.0], [3.47, -2.0], [3.49, 2.0], [3.52, 7.0],
          [3.6, 8.5], [3.8, 9.5], [4.0, 9.8], [4.5, 10.0], [5.0, 10.3]]
P6_FAST5 = [[0, 13.0], [0.3, 12.5], [0.5, 12.0], [0.62, 11.0], [0.7, 9.5], [0.72, 5.0], [0.74, -1.2], [0.76, 5.0],
            [0.78, 9.0], [0.85, 10.5], [1.0, 11.0], [1.5, 11.0], [2, 10.9], [3, 10.9], [4, 11.0], [5, 11.0]]
P6_FAST10 = [[0, 13.0], [0.3, 12.6], [0.6, 12.0], [1.0, 11.6], [2, 11.5], [3, 11.5], [4, 11.5], [5, 11.5]]
P6_INVK = [[0, 27], [0.005, 22], [0.02, 20], [0.05, 19], [0.1, 18.3], [0.2, 17.6], [0.4, 16.9], [0.7, 16.3], [1, 16],
           [1.5, 15.5], [2, 15.1], [2.5, 14.8], [3, 14.6], [3.5, 14.4], [4, 14.2], [4.5, 14.1], [5, 14.0]]

Y_TITLES = [
    "log(||<i>x</i><sub><i>k</i></sub> − <i>x</i><sub><i>k</i>−1</sub>||)",
    "log(||<i>λ</i><sub><i>k</i></sub> − <i>λ</i><sub><i>k</i>−1</sub>||)",
    "log(||<i>u</i><sub><i>k</i></sub> + ∇<i>h</i>(<i>x</i><sub><i>k</i></sub>) + <i>A</i><sup>*</sup><i>λ</i><sub><i>k</i></sub>||)",
    "log(||<i>Ax</i><sub><i>k</i></sub> − <i>b</i>||)",
    "log(ℒ(<i>x</i><sub><i>k</i></sub>, <i>λ</i><sub>*</sub>) − ℒ(<i>x</i><sub>*</sub>, <i>λ</i><sub><i>k</i></sub>))",
    "log(|(<i>f</i> + <i>h</i>)(<i>x</i><sub><i>k</i></sub>) − (<i>f</i> + <i>h</i>)(<i>x</i><sub>*</sub>)|)",
]
Y_RANGES = [(-15, 15), (-15, 15), (-15, 20), (-15, 20), (-30, 20), (-30, 30)]
Y_DTICK = [5, 5, 5, 5, 5, 10]
TITLE = "n = 1000"

PANEL_DATA = [
    dict(EG=P1_EG, OGDA=P1_OGDA, FRB=P1_FRB, RFB=P1_RFB, SQRT=P1_SQRT, PEAG=P1_PEAG, ARG=P1_ARG, FAST5=P1_FAST5, FAST10=P1_FAST10, INVK=P1_INVK),
    dict(EG=P2_EG, OGDA=P2_OGDA, FRB=P2_FRB, RFB=P2_RFB, SQRT=P2_SQRT, PEAG=P2_PEAG, ARG=P2_ARG, FAST5=P2_FAST5, FAST10=P2_FAST10, INVK=P2_INVK),
    dict(EG=P3_EG, OGDA=P3_OGDA, FRB=P3_FRB, RFB=P3_RFB, SQRT=P3_SQRT, PEAG=P3_PEAG, ARG=P3_ARG, FAST5=P3_FAST5, FAST10=P3_FAST10, INVK=P3_INVK),
    dict(EG=P4_EG, OGDA=P4_OGDA, FRB=P4_FRB, RFB=P4_RFB, SQRT=P4_SQRT, PEAG=P4_PEAG, ARG=P4_ARG, FAST5=P4_FAST5, FAST10=P4_FAST10, INVK=P4_INVK),
    dict(EG=P5_EG, OGDA=P5_OGDA, FRB=P5_FRB, RFB=P5_RFB, SQRT=P5_SQRT, PEAG=P5_PEAG, ARG=P5_ARG, FAST5=P5_FAST5, FAST10=P5_FAST10, INVK=P5_INVK),
    dict(EG=P6_EG, OGDA=P6_OGDA, FRB=P6_FRB, RFB=P6_RFB, SQRT=P6_SQRT, PEAG=P6_PEAG, ARG=P6_ARG, FAST5=P6_FAST5, FAST10=P6_FAST10, INVK=P6_INVK),
]

# ---------------- layout geometry (pixels) ----------------
COLS_PX = [(32.3, 337.0), (402.0, 705.5)]
ROWS_PX = [(12.3, 252.0), (313.5, 552.0), (613.7, 853.0)]

SERIF = "Liberation Serif, Times New Roman, serif"
SANS = "Liberation Sans, Arial, sans-serif"
TXT = "#262626"
AXC = "#8a8a8a"


def build(spec):
    if isinstance(spec, list):
        return [p[0] for p in spec], [p[1] for p in spec]
    low, high = spec["low"], spec["high"]
    nl = min(len(low), len(high) + 1)
    n = 2 * nl - 1
    xs = list(np.linspace(spec["span"][0], spec["span"][1], n))
    ys = [low[i // 2] if i % 2 == 0 else high[i // 2] for i in range(n)]
    x = [p[0] for p in spec["head"]] + xs + [p[0] for p in spec["tail"]]
    y = [p[1] for p in spec["head"]] + ys + [p[1] for p in spec["tail"]]
    return x, y


fig = go.Figure()
shapes, annotations = [], []

for i, data in enumerate(PANEL_DATA):
    r, c = i // 2, i % 2
    n = i + 1
    xs = "" if n == 1 else str(n)
    xl, xr = COLS_PX[c]
    yt, yb = ROWS_PX[r]
    for key in ORDER:
        x, y = build(data[key])
        color, dash, width = STYLE[key]
        fig.add_trace(go.Scatter(x=x, y=y, mode="lines", name=LABELS[key],
                                 line=dict(color=color, dash=dash, width=width),
                                 xaxis="x" + xs, yaxis="y" + xs, showlegend=False, hoverinfo="skip"))
    y0, y1 = Y_RANGES[i]
    fig.layout["xaxis" + xs] = dict(
        domain=[xl / W, xr / W], anchor="y" + xs, range=[0, 5], tickvals=K_TICKS,
        ticks="inside", ticklen=3, tickcolor=AXC, mirror="allticks", showline=True, linecolor=AXC, linewidth=1,
        showgrid=False, zeroline=False, tickfont=dict(family=SANS, size=10, color=TXT),
        title=dict(text="k", font=dict(family=SERIF, size=11, color=TXT), standoff=2))
    fig.layout["yaxis" + xs] = dict(
        domain=[1 - yb / H, 1 - yt / H], anchor="x" + xs, range=[y0, y1],
        tickvals=list(range(y0, y1 + 1, Y_DTICK[i])),
        ticks="inside", ticklen=3, tickcolor=AXC, mirror="allticks", showline=True, linecolor=AXC, linewidth=1,
        showgrid=False, zeroline=False, tickfont=dict(family=SANS, size=10, color=TXT),
        title=dict(text=Y_TITLES[i], font=dict(family=SERIF, size=10.5, color=TXT), standoff=3))
    annotations.append(dict(text=TITLE, xref="paper", yref="paper", x=(xl + xr) / 2 / W, y=1 - yt / H,
                            xanchor="center", yanchor="bottom", yshift=1, showarrow=False,
                            font=dict(family=SERIF, size=12, color=TXT)))
    # legend box (MATLAB style, two columns)
    br = xr - 6
    bl = br - 170
    bt = yt + 6.5
    bb = bt + 55.5
    shapes.append(dict(type="rect", xref="paper", yref="paper", x0=bl / W, x1=br / W, y0=1 - bb / H, y1=1 - bt / H,
                       fillcolor="white", line=dict(color="#7a7a7a", width=0.8), layer="above"))
    for ri, pair in enumerate(LEGEND_ROWS):
        yy = bt + 6 + 10.6 * ri
        for ci, key in enumerate(pair):
            lx0 = bl + (1.5 if ci == 0 else 71)
            lx1 = lx0 + 27.5
            color, dash, width = STYLE[key]
            shapes.append(dict(type="line", xref="paper", yref="paper", x0=lx0 / W, x1=lx1 / W,
                               y0=1 - yy / H, y1=1 - yy / H, line=dict(color=color, dash=dash, width=width),
                               layer="above"))
            annotations.append(dict(text=LABELS[key], xref="paper", yref="paper", x=(lx1 + 2.5) / W, y=1 - yy / H,
                                    xanchor="left", yanchor="middle", showarrow=False,
                                    font=dict(family=SERIF, size=9.5, color=TXT)))

fig.update_layout(width=W, height=H, margin=dict(l=0, r=0, t=0, b=0), paper_bgcolor="white",
                  plot_bgcolor="white", showlegend=False, shapes=shapes, annotations=annotations)
fig.write_html("out.html")
